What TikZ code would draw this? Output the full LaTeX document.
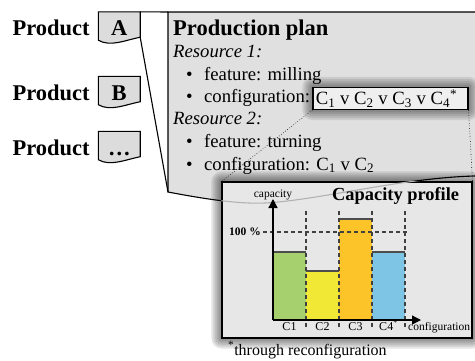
\documentclass[tikz,border=0pt]{standalone}
\usepackage{fontspec}
\setmainfont{Liberation Serif}
\usetikzlibrary{positioning,arrows.meta,calc,fit}
\pgfdeclarelayer{background}
\pgfdeclarelayer{shadow}
\pgfsetlayers{background,shadow,main}

\definecolor{docgray}{HTML}{DCDCDD}
\definecolor{plangray}{HTML}{E0E0E1}
\definecolor{capgray}{HTML}{E7E7E7}
\definecolor{hlgray}{HTML}{EFEFEF}
\definecolor{cfggreen}{HTML}{A6CF6D}
\definecolor{cfgyellow}{HTML}{F1E735}
\definecolor{cfgorange}{HTML}{FDC429}
\definecolor{cfgblue}{HTML}{7EC5E5}

\begin{document}
\begin{tikzpicture}[x=1pt, y=-1pt,
        prodlabel/.style={font=\fontsize{22.5}{27}\selectfont\bfseries, inner sep=0pt},
        docnode/.style={minimum width=41.5pt, minimum height=28pt, inner sep=0pt, text height=19pt, text depth=0pt, font=\fontsize{22.5}{27}\selectfont\bfseries},
        docshape/.style={draw=black, fill=docgray, line width=1.1pt},
        planshape/.style={draw=black, fill=plangray, line width=1.1pt},
        plantitle/.style={font=\fontsize{22.5}{27}\selectfont\bfseries, inner sep=0pt, anchor=base west},
        planline/.style={font=\fontsize{18.7}{22}\selectfont, inner sep=0pt, anchor=base west},
        resline/.style={planline, font=\fontsize{18.7}{22}\selectfont\itshape},
        hlbox/.style={draw=black, fill=hlgray, line width=1.2pt, minimum height=22pt, inner xsep=3pt, inner ysep=0pt, font=\fontsize{18.7}{22}\selectfont},
        capbox/.style={draw=black, fill=capgray, line width=1.1pt, inner sep=0pt},
        zoomline/.style={black, dotted, line width=0.6pt},
        chartaxis/.style={black, line width=1.3pt, -{Triangle[length=9pt, width=9pt]}},
        guide/.style={black!75, line width=1.1pt, dash pattern=on 4pt off 3pt},
        bartop/.style={black!70, line width=1.1pt},
        smalltext/.style={font=\fontsize{11.5}{13}\selectfont, inner sep=0pt},
        cfglabel/.style={font=\fontsize{12}{14}\selectfont, inner sep=0pt, anchor=base},
]
\useasboundingbox (0,0) rectangle (475,360);

% products
\foreach \n/\lbl/\y in {A/A/26, B/B/90.5, C/\ldots/145.5} {
    \node[docnode] (doc\n) at (119.25,\y) {\lbl};
    \node[prodlabel, left=8.5pt of doc\n.base west, anchor=base east] (prod\n) {Product};
}

% production plan, zoomed out of product A
\coordinate (planNW) at (168,12);
\coordinate (planSW) at (168,192);
\begin{pgfonlayer}{background}
    \foreach \n in {A,B,C}
        \draw[docshape] (doc\n.south west) -- (doc\n.north west) -- (doc\n.north east)
            -- ($(doc\n.south east)+(0,-3)$) .. controls +(-15,3) and +(12,7) .. (doc\n.south west) -- cycle;
    \draw[planshape] (planNW) -- (480,12) -- (480,176) -- (475,176)
        .. controls (400,178) and (320,200) .. (265,203)
        .. controls (240,204) and (210,200) .. (planSW) -- cycle;
    \draw[line width=1.1pt] (docA.north east) -- (planNW);
    \draw[line width=1.1pt] ($(docA.south east)+(0,-3)$) -- (planSW);
\end{pgfonlayer}

\node[plantitle] (title) at (173,35) {Production plan};
\node[resline] (resone) at (173,57) {Resource 1:};
\node[planline] (featone) at (186,80) {\makebox[18pt][l]{\textbullet}feature: milling};
\node[planline] (cfgone) at (186,102) {\makebox[18pt][l]{\textbullet}configuration:};
\node[hlbox, right=2pt of cfgone, yshift=-1pt] (hl) {\makebox[149pt][l]{C\textsubscript{1} v C\textsubscript{2} v C\textsubscript{3} v C\textsubscript{4}\textsuperscript{*}}};
\node[resline] (restwo) at (173,124) {Resource 2:};
\node[planline] (feattwo) at (186,147) {\makebox[18pt][l]{\textbullet}feature: turning};
\node[planline] (cfgtwo) at (186,170) {\makebox[18pt][l]{\textbullet}configuration: C\textsubscript{1} v C\textsubscript{2}};

% capacity profile
\coordinate (capNW) at (222,182);
\coordinate (capSE) at (472,338);
\node[capbox, fit=(capNW)(capSE)] (cap) {};

% soft shadows
\begin{pgfonlayer}{shadow}
    \foreach \s in {10,8,6,4,2} {
        \fill[black, opacity=0.1, rounded corners=\s pt] ($(cap.north west)+(-\s,-\s)$) rectangle ($(cap.south east)+(\s,\s)$);
        \fill[black, opacity=0.09, rounded corners=\s pt] ($(hl.north west)+(-\s,-\s)$) rectangle ($(hl.south east)+(\s,\s)$);
    }
\end{pgfonlayer}

\begin{scope}
    \clip (cap.north west) rectangle (cap.south east);
    \draw[black!30, line width=1.1pt] (475,176) .. controls (400,178) and (320,200) .. (265,203)
        .. controls (240,204) and (210,200) .. (planSW);
\end{scope}

\coordinate (origin) at (273,320);
\foreach \x/\h/\c in {273/252/cfggreen, 306/271/cfgyellow, 339/219/cfgorange, 372/252/cfgblue} {
    \fill[\c] (\x,320) rectangle ({\x+33},\h);
    \draw[bartop] (\x,\h) -- ({\x+33},\h);
}
\foreach \x in {306,339,372,405}
    \draw[guide] (\x,211) -- (\x,327);
\draw[guide] (263,232) -- (407,232);
\draw[chartaxis] (origin) -- (273,199);
\draw[chartaxis] (origin) -- (421,320);

\node[smalltext, anchor=base] (ylabel) at (273,197) {capacity};
\node[smalltext, anchor=base west] (xlabel) at (408,330) {configuration};
\node[font=\fontsize{11.5}{13}\selectfont\bfseries, inner sep=0pt, anchor=base east] (full) at (261,235) {100 \%};
\foreach \x/\lbl [count=\i] in {289.5/C1, 322.5/C2, 355.5/C3, 388.5/C4\textsuperscript{*}}
    \node[cfglabel] (cfg\i) at (\x,330) {\lbl};
\node[font=\fontsize{18.4}{22}\selectfont\bfseries, inner sep=0pt, anchor=base west] (captitle) at (332,200) {Capacity profile};
\node[font=\fontsize{16}{19}\selectfont, inner sep=0pt, anchor=base west] (note) at (228,355) {\textsuperscript{*}through reconfiguration};

\draw[zoomline] (hl.south west) -- (cap.north west);
\draw[zoomline] (hl.south east) -- (cap.north east);
\end{tikzpicture}
\end{document}
